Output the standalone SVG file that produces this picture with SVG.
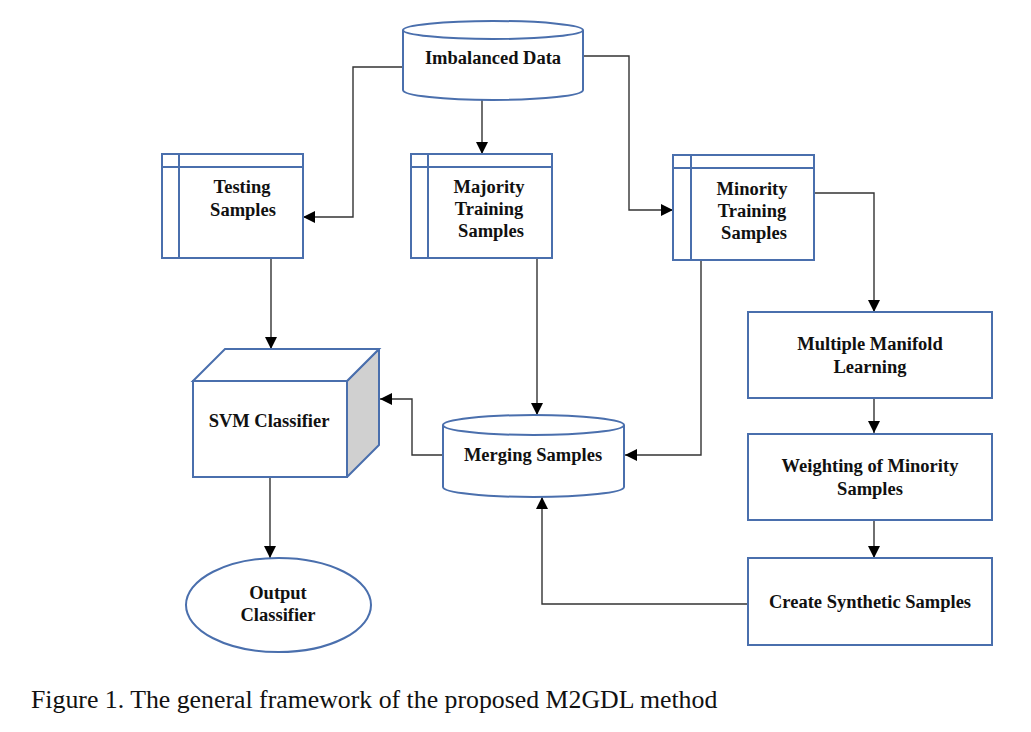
<svg xmlns="http://www.w3.org/2000/svg" width="1031" height="732" viewBox="0 0 1031 732">
<style>
.shape{fill:#fff;stroke:#4a6fad;stroke-width:2}
.conn{fill:none;stroke:#333;stroke-width:1.4}
.lbl{font-family:"Liberation Serif","Times New Roman",serif;font-weight:bold;font-size:18.5px;fill:#111;text-anchor:middle}
.cap{font-family:"Liberation Serif","Times New Roman",serif;font-size:25.8px;fill:#111}
</style>
<defs>
<marker id="arr" markerUnits="userSpaceOnUse" markerWidth="12" markerHeight="12" viewBox="0 0 12 12" refX="12" refY="6" orient="auto">
<path d="M0,0 L12,6 L0,12 z" fill="#000"/>
</marker>
</defs>
<rect width="1031" height="732" fill="#fff"/>

<g id="connectors">
<path class="conn" d="M403,67 H353 V217 H303" marker-end="url(#arr)"/>
<path class="conn" d="M482,100 V154" marker-end="url(#arr)"/>
<path class="conn" d="M583,56 H629 V210 H673" marker-end="url(#arr)"/>
<path class="conn" d="M814,193 H874 V312" marker-end="url(#arr)"/>
<path class="conn" d="M874,398 V433" marker-end="url(#arr)"/>
<path class="conn" d="M874,520 V558" marker-end="url(#arr)"/>
<path class="conn" d="M748,604 H542 V497" marker-end="url(#arr)"/>
<path class="conn" d="M701,260 V455 H625" marker-end="url(#arr)"/>
<path class="conn" d="M537,258 V415" marker-end="url(#arr)"/>
<path class="conn" d="M443,455 H412 V399 H380" marker-end="url(#arr)"/>
<path class="conn" d="M271,258 V349" marker-end="url(#arr)"/>
<path class="conn" d="M270,477 V558" marker-end="url(#arr)"/>
</g>

<g id="imbalanced-data">
<path class="shape" d="M403,30 V90 A90,10 0 0 0 583,90 V30"/>
<ellipse class="shape" cx="493" cy="30" rx="90" ry="9"/>
<text class="lbl" x="493" y="64">Imbalanced Data</text>
</g>

<g id="testing-samples">
<rect class="shape" x="162" y="154" width="141" height="104"/>
<path class="shape" d="M162,167 H303 M179,154 V258"/>
<text class="lbl" x="242" y="193">Testing</text>
<text class="lbl" x="243" y="216">Samples</text>
</g>

<g id="majority-training-samples">
<rect class="shape" x="411" y="154" width="141" height="104"/>
<path class="shape" d="M411,167 H552 M428,154 V258"/>
<text class="lbl" x="489" y="193">Majority</text>
<text class="lbl" x="489" y="215">Training</text>
<text class="lbl" x="491" y="237">Samples</text>
</g>

<g id="minority-training-samples">
<rect class="shape" x="673" y="155" width="141" height="105"/>
<path class="shape" d="M673,168 H814 M691,155 V260"/>
<text class="lbl" x="752" y="195">Minority</text>
<text class="lbl" x="752" y="217">Training</text>
<text class="lbl" x="754" y="239">Samples</text>
</g>

<g id="multiple-manifold-learning">
<rect class="shape" x="748" y="312" width="244" height="86"/>
<text class="lbl" x="870" y="350">Multiple Manifold</text>
<text class="lbl" x="870" y="373">Learning</text>
</g>

<g id="weighting-minority">
<rect class="shape" x="748" y="434" width="244" height="86"/>
<text class="lbl" x="870" y="472">Weighting of Minority</text>
<text class="lbl" x="870" y="495">Samples</text>
</g>

<g id="create-synthetic">
<rect class="shape" x="748" y="558" width="244" height="87"/>
<text class="lbl" x="870" y="608">Create Synthetic Samples</text>
</g>

<g id="merging-samples">
<path class="shape" d="M443,425 V487 A90.5,10 0 0 0 624,487 V425"/>
<ellipse class="shape" cx="533.5" cy="425" rx="90.5" ry="10"/>
<text class="lbl" x="533" y="461">Merging Samples</text>
</g>

<g id="svm-classifier">
<path d="M347,381 L379,349 V445 L347,477 z" fill="#d0d0d0" stroke="#4a6fad" stroke-width="2" stroke-linejoin="round"/>
<path class="shape" d="M193,381 L225,349 H379 L347,381 z"/>
<rect class="shape" x="193" y="381" width="154" height="96"/>
<text class="lbl" x="269" y="427">SVM Classifier</text>
</g>

<g id="output-classifier">
<ellipse class="shape" cx="278.5" cy="605" rx="92.5" ry="47"/>
<text class="lbl" x="278" y="599">Output</text>
<text class="lbl" x="278" y="621">Classifier</text>
</g>

<text class="cap" x="31" y="708">Figure 1. The general framework of the proposed M2GDL method</text>
</svg>
